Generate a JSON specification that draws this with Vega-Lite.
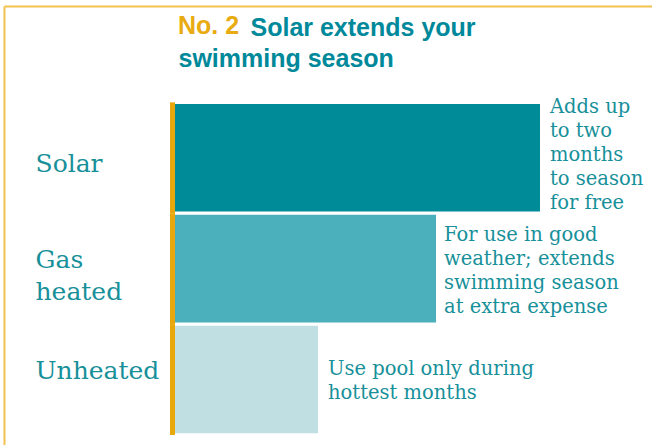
{
  "$schema": "https://vega.github.io/schema/vega-lite/v6.json",
  "width": 648,
  "height": 439,
  "autosize": {"type": "none"},
  "padding": {"top": 6, "left": 4, "right": 0, "bottom": 0},
  "background": "#ffffff",
  "title": {"text": "No. 2", "anchor": "start", "frame": "group", "orient": "top", "offset": 0, "dx": 174, "dy": 33, "color": "#e9ab12", "font": "Liberation Sans", "fontSize": 25, "fontWeight": "bold"},
  "data": {"values": [
    {"cat": "Solar", "value": 365, "note": ["Adds up", "to two", "months", "to season", "for free"]},
    {"cat": "Gas heated", "value": 261, "note": ["For use in good", "weather; extends", "swimming season", "at extra expense"]},
    {"cat": "Unheated", "value": 143, "note": ["Use pool only during", "hottest months"]}
  ]},
  "encoding": {
    "y": {
      "field": "cat", "type": "nominal",
      "scale": {"domain": ["Solar", "Gas heated", "Unheated"], "paddingInner": 0.03, "paddingOuter": 0.4947, "align": 0.8933},
      "axis": {
        "orient": "left", "domain": true, "domainColor": "#f3c14f", "domainWidth": 2, "ticks": false, "grid": false,
        "labelExpr": "datum.value == 'Gas heated' ? ['Gas', 'heated'] : datum.label",
        "labelAlign": "left", "labelBaseline": "middle", "labelPadding": -31,
        "labelOffset": {"condition": {"test": "datum.value == 'Solar'", "value": 6}, "value": -8.5},
        "labelFont": "DejaVu Serif", "labelFontSize": 25, "labelColor": "#17909a", "labelLineHeight": 31.5,
        "title": "swimming season", "titleAngle": 0, "titleX": 174, "titleY": 60, "titleAlign": "left", "titleBaseline": "alphabetic",
        "titleFont": "Liberation Sans", "titleFontSize": 25, "titleFontWeight": "bold", "titleColor": "#00899a"
      }
    }
  },
  "layer": [
    {
      "mark": {"type": "bar", "height": {"band": 1.031}},
      "encoding": {
        "x": {"datum": -5, "type": "quantitative"},
        "x2": {"datum": 0},
        "color": {"value": "#e8a80c"}
      }
    },
    {
      "mark": {"type": "bar"},
      "encoding": {
        "x": {
          "field": "value", "type": "quantitative",
          "scale": {"domain": [-171, 477], "nice": false, "zero": false},
          "axis": {
            "orient": "top", "domain": true, "domainColor": "#f3c14f", "domainWidth": 2, "ticks": false, "labels": false, "grid": false,
            "title": "Solar extends your", "titleX": 246, "titleY": 29, "titleAlign": "left", "titleBaseline": "alphabetic", "titleAnchor": "start",
            "titleFont": "Liberation Sans", "titleFontSize": 25, "titleFontWeight": "bold", "titleColor": "#00899a"
          }
        },
        "color": {"field": "cat", "type": "nominal", "scale": {"domain": ["Solar", "Gas heated", "Unheated"], "range": ["#008b98", "#4bb0bb", "#c0dfe2"]}, "legend": null}
      }
    },
    {
      "transform": [{"filter": "datum.cat == 'Solar'"}],
      "mark": {"type": "text", "align": "left", "baseline": "middle", "dx": 10, "dy": -51, "font": "DejaVu Serif", "fontSize": 19.5, "lineHeight": 24, "color": "#17909a"},
      "encoding": {
        "x": {"field": "value", "type": "quantitative"},
        "text": {"field": "note", "type": "nominal"}
      }
    },
    {
      "transform": [{"filter": "datum.cat == 'Gas heated'"}],
      "mark": {"type": "text", "align": "left", "baseline": "middle", "dx": 8, "dy": -34, "font": "DejaVu Serif", "fontSize": 19.5, "lineHeight": 24, "color": "#17909a"},
      "encoding": {
        "x": {"field": "value", "type": "quantitative"},
        "text": {"field": "note", "type": "nominal"}
      }
    },
    {
      "transform": [{"filter": "datum.cat == 'Unheated'"}],
      "mark": {"type": "text", "align": "left", "baseline": "middle", "dx": 10, "dy": -11, "font": "DejaVu Serif", "fontSize": 19.5, "lineHeight": 24, "color": "#17909a"},
      "encoding": {
        "x": {"field": "value", "type": "quantitative"},
        "text": {"field": "note", "type": "nominal"}
      }
    }
  ],
  "config": {"view": {"stroke": null}}
}
